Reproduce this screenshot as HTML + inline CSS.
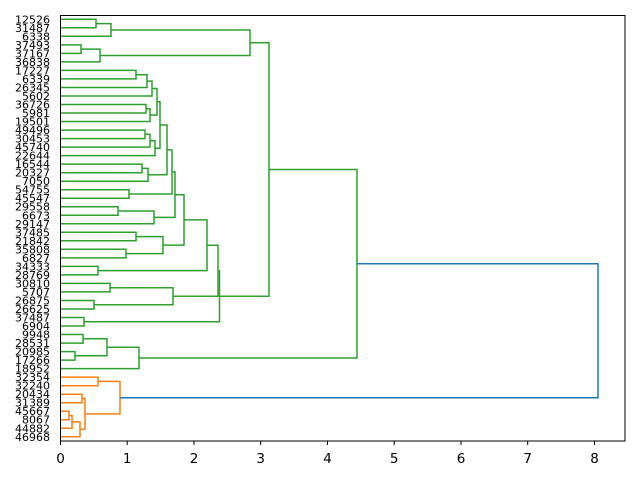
<!DOCTYPE html>
<html><head><meta charset="utf-8"><style>
html,body{margin:0;padding:0;background:#fff;}
svg{display:block;font-family:"DejaVu Sans","Liberation Sans",sans-serif;}
</style></head><body>
<svg width="640" height="480" viewBox="0 0 640 480" xmlns="http://www.w3.org/2000/svg">
<rect x="0" y="0" width="640" height="480" fill="#fff"/>
<g fill="none" stroke-width="1.5" stroke="#2ca02c">
<path d="M60.5 19.3H96V27.8H60.5"/>
<path d="M96 23.6H111V36.3H60.5"/>
<path d="M60.5 44.9H81V53.4H60.5"/>
<path d="M81 49.1H100V61.9H60.5"/>
<path d="M111 30H250V55.5H100"/>
<path d="M60.5 70.4H136V78.9H60.5"/>
<path d="M136 74.7H147V87.5H60.5"/>
<path d="M147 81.1H152V96H60.5"/>
<path d="M60.5 104.5H146V113H60.5"/>
<path d="M146 108.8H150V121.5H60.5"/>
<path d="M152 88.5H157V115.1H150"/>
<path d="M60.5 130.1H145V138.6H60.5"/>
<path d="M145 134.3H150V147.1H60.5"/>
<path d="M150 140.7H155V155.6H60.5"/>
<path d="M157 101.8H160V148.2H155"/>
<path d="M60.5 164.1H142V172.7H60.5"/>
<path d="M142 168.4H148V181.2H60.5"/>
<path d="M160 125H167V174.8H148"/>
<path d="M60.5 189.7H129V198.2H60.5"/>
<path d="M167 149.9H172V194H129"/>
<path d="M60.5 206.7H118V215.3H60.5"/>
<path d="M118 211H154V223.8H60.5"/>
<path d="M172 171.9H175V217.4H154"/>
<path d="M60.5 232.3H136V240.8H60.5"/>
<path d="M60.5 249.3H126V257.9H60.5"/>
<path d="M136 236.6H163V253.6H126"/>
<path d="M175 194.7H184V245.1H163"/>
<path d="M60.5 266.4H98V274.9H60.5"/>
<path d="M184 219.9H207V270.6H98"/>
<path d="M60.5 283.4H110V291.9H60.5"/>
<path d="M60.5 300.5H94V309H60.5"/>
<path d="M110 287.7H173V304.7H94"/>
<path d="M207 245.3H218V296.2H173"/>
<path d="M60.5 317.5H84V326H60.5"/>
<path d="M218 270.8H219.5V321.8H84"/>
<path d="M250 42.7H269V296.3H219.5"/>
<path d="M60.5 334.5H83V343.1H60.5"/>
<path d="M60.5 351.6H75V360.1H60.5"/>
<path d="M83 338.8H107V355.8H75"/>
<path d="M107 347.3H139V368.6H60.5"/>
<path d="M269 169.5H357V358H139"/>
</g>
<g fill="none" stroke-width="1.5" stroke="#ff7f0e">
<path d="M60.5 377.1H98V385.7H60.5"/>
<path d="M60.5 394.2H82V402.7H60.5"/>
<path d="M60.5 411.2H69V419.7H60.5"/>
<path d="M69 415.5H72V428.3H60.5"/>
<path d="M72 421.9H80V436.8H60.5"/>
<path d="M82 398.4H85V429.3H80"/>
<path d="M98 381.4H120V413.9H85"/>
</g>
<path d="M357 263.8H598V397.7H120" fill="none" stroke-width="1.5" stroke="#1f77b4"/>
<rect x="60.5" y="15.5" width="564.5" height="425.5" fill="none" stroke="#000" stroke-width="1"/>
<g stroke="#000" stroke-width="1">
<line x1="60.5" y1="441" x2="60.5" y2="445"/><line x1="127.2" y1="441" x2="127.2" y2="445"/><line x1="194" y1="441" x2="194" y2="445"/><line x1="260.7" y1="441" x2="260.7" y2="445"/><line x1="327.5" y1="441" x2="327.5" y2="445"/><line x1="394.2" y1="441" x2="394.2" y2="445"/><line x1="461" y1="441" x2="461" y2="445"/><line x1="527.7" y1="441" x2="527.7" y2="445"/><line x1="594.5" y1="441" x2="594.5" y2="445"/>
</g>
<g font-size="13.5" text-anchor="middle" fill="#000">
<text x="60.5" y="463">0</text><text x="127.2" y="463">1</text><text x="194" y="463">2</text><text x="260.7" y="463">3</text><text x="327.5" y="463">4</text><text x="394.2" y="463">5</text><text x="461" y="463">6</text><text x="527.7" y="463">7</text><text x="594.5" y="463">8</text>
</g>
<g font-size="11" text-anchor="end" fill="#000">
<text x="50" y="23.3">12526</text>
<text x="50" y="31.8">31487</text>
<text x="50" y="40.3">6338</text>
<text x="50" y="48.9">37493</text>
<text x="50" y="57.4">37167</text>
<text x="50" y="65.9">36838</text>
<text x="50" y="74.4">17227</text>
<text x="50" y="82.9">6339</text>
<text x="50" y="91.5">26345</text>
<text x="50" y="100">5602</text>
<text x="50" y="108.5">36726</text>
<text x="50" y="117">5981</text>
<text x="50" y="125.5">19501</text>
<text x="50" y="134.1">49496</text>
<text x="50" y="142.6">30453</text>
<text x="50" y="151.1">45740</text>
<text x="50" y="159.6">22644</text>
<text x="50" y="168.1">16544</text>
<text x="50" y="176.7">20327</text>
<text x="50" y="185.2">7050</text>
<text x="50" y="193.7">54755</text>
<text x="50" y="202.2">45547</text>
<text x="50" y="210.7">29558</text>
<text x="50" y="219.3">6673</text>
<text x="50" y="227.8">29147</text>
<text x="50" y="236.3">37485</text>
<text x="50" y="244.8">21842</text>
<text x="50" y="253.3">35808</text>
<text x="50" y="261.9">6827</text>
<text x="50" y="270.4">34333</text>
<text x="50" y="278.9">28769</text>
<text x="50" y="287.4">30810</text>
<text x="50" y="295.9">5707</text>
<text x="50" y="304.5">26875</text>
<text x="50" y="313">26625</text>
<text x="50" y="321.5">37487</text>
<text x="50" y="330">6904</text>
<text x="50" y="338.5">9948</text>
<text x="50" y="347.1">28531</text>
<text x="50" y="355.6">20985</text>
<text x="50" y="364.1">17266</text>
<text x="50" y="372.6">18952</text>
<text x="50" y="381.1">32354</text>
<text x="50" y="389.7">32240</text>
<text x="50" y="398.2">20434</text>
<text x="50" y="406.7">31389</text>
<text x="50" y="415.2">45667</text>
<text x="50" y="423.7">8067</text>
<text x="50" y="432.3">44882</text>
<text x="50" y="440.8">46968</text>
</g>
</svg>
</body></html>
